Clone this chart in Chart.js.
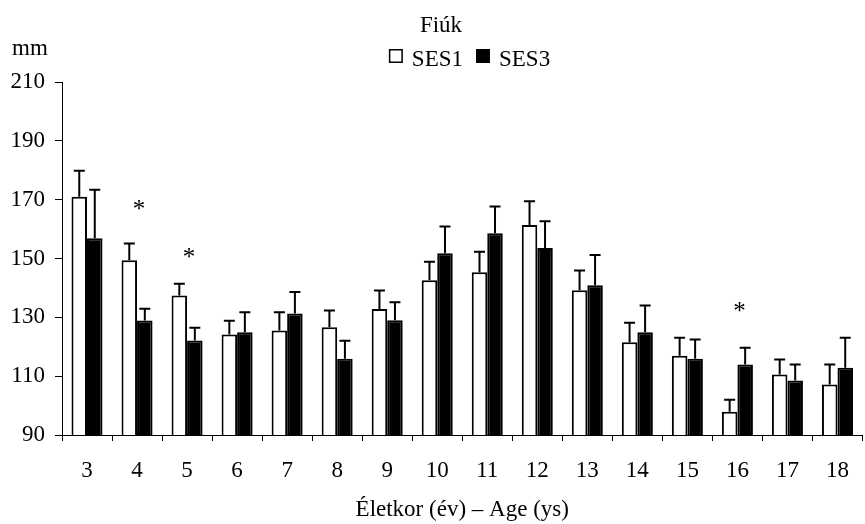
<!DOCTYPE html>
<html><head><meta charset="utf-8">
<script src="https://cdn.jsdelivr.net/npm/chart.js@4/dist/chart.umd.min.js"></script>
<style>html,body{margin:0;padding:0;background:#fff;} #wrap{width:865px;height:524px;}</style>
</head><body><div id="wrap"><canvas id="c" width="865" height="524"></canvas></div>
<script>
const categories = ['3','4','5','6','7','8','9','10','11','12','13','14','15','16','17','18'];
const ses1Means = [171.0,149.4,137.4,124.2,125.5,126.6,132.8,142.6,145.3,161.4,139.2,121.5,116.9,97.9,110.6,107.2];
const ses1SD    = [8.8,5.7,4.0,4.6,6.2,5.7,6.3,6.3,7.0,8.1,6.7,6.7,6.2,4.1,5.1,6.8];
const ses3Means = [156.9,128.9,122.1,124.9,131.3,115.9,129.0,151.8,158.6,153.6,140.9,124.9,115.9,114.0,108.5,112.9];
const ses3SD    = [16.5,4.0,4.4,6.8,7.3,6.1,6.1,9.1,9.1,9.1,10.3,9.1,6.6,5.7,5.5,10.2];
const asteriskLevels = [null,168.2,151.9,null,null,null,null,null,null,null,null,null,null,133.6,null,null];
const seriesNames = ['SES1','SES3'];
const yMin = 90, yMax = 210, yStep = 20;
const chartTitle = 'Fiúk';
const yUnit = 'mm';
const xTitle = 'Életkor (év) – Age (ys)';

const FONT = 'Liberation Serif';
const fnt = {family: FONT, size: 23};

const errorBars = {
  id: 'errorBars',
  afterDatasetsDraw(chart) {
    const ctx = chart.ctx, y = chart.scales.y;
    chart.data.datasets.forEach((ds, i) => {
      const meta = chart.getDatasetMeta(i);
      meta.data.forEach((bar, j) => {
        const top = y.getPixelForValue(ds.data[j] + ds.sd[j]);
        ctx.save();
        ctx.strokeStyle = '#000';
        ctx.lineWidth = 2;
        ctx.beginPath();
        ctx.moveTo(bar.x, bar.y);
        ctx.lineTo(bar.x, top);
        ctx.moveTo(bar.x - 5.5, top);
        ctx.lineTo(bar.x + 5.5, top);
        ctx.stroke();
        ctx.restore();
      });
    });
  }
};

const annotations = {
  id: 'annotations',
  afterDraw(chart) {
    const ctx = chart.ctx, x = chart.scales.x, y = chart.scales.y;
    ctx.save();
    ctx.fillStyle = '#000';
    ctx.font = '23px "' + FONT + '"';
    ctx.textBaseline = 'alphabetic';
    ctx.textAlign = 'center';
    ctx.fillText(chartTitle, 441, 32);
    ctx.textAlign = 'left';
    ctx.fillText(yUnit, 12, 55);
    const ds = chart.data.datasets;
    const box = 14, gapText = 9, gapItem = 13;
    let total = 0;
    const widths = ds.map(d => ctx.measureText(d.label).width);
    widths.forEach((w, i) => { total += box + gapText + w + (i < widths.length - 1 ? gapItem : 0); });
    let lx = 469.5 - total / 2;
    ds.forEach((d, i) => {
      ctx.fillStyle = d.backgroundColor;
      ctx.fillRect(lx, 49, box, box);
      ctx.strokeStyle = '#000';
      ctx.lineWidth = 1.5;
      ctx.strokeRect(lx + 0.75, 49.75, box - 1.5, box - 1.5);
      ctx.fillStyle = '#000';
      ctx.textAlign = 'left';
      ctx.fillText(d.label, lx + box + gapText, 66);
      lx += box + gapText + widths[i] + gapItem;
    });
    ctx.textAlign = 'center';
    ctx.font = '25px "' + FONT + '"';
    asteriskLevels.forEach((v, j) => {
      if (v === null) return;
      const px = x.getPixelForValue(j) + 2;
      const py = y.getPixelForValue(v) + 12;
      ctx.fillText('*', px, py);
    });
    ctx.restore();
  }
};

new Chart(document.getElementById('c'), {
  type: 'bar',
  data: {
    labels: categories,
    datasets: [
      {label: seriesNames[0], data: ses1Means, sd: ses1SD, backgroundColor: '#ffffff', borderColor: '#000', borderWidth: 2, categoryPercentage: 0.62, barPercentage: 1},
      {label: seriesNames[1], data: ses3Means, sd: ses3SD, backgroundColor: '#000000', borderColor: '#000', borderWidth: 2, categoryPercentage: 0.62, barPercentage: 1}
    ]
  },
  options: {
    responsive: false,
    animation: false,
    devicePixelRatio: 1,
    layout: {padding: {top: 82, left: 0, right: 1, bottom: 0}},
    plugins: {legend: {display: false}, title: {display: false}, tooltip: {enabled: false}},
    scales: {
      x: {
        grid: {display: true, drawOnChartArea: false, tickLength: 6, color: '#000', offset: true},
        border: {color: '#000', width: 1},
        ticks: {font: fnt, color: '#000', padding: 16, maxRotation: 0},
        title: {display: true, text: xTitle, font: fnt, color: '#000', padding: {top: 0, bottom: 0}},
        afterFit: s => { s.height = 89; }
      },
      y: {
        min: yMin, max: yMax,
        ticks: {stepSize: yStep, font: fnt, color: '#000', padding: 10},
        grid: {drawOnChartArea: false, tickLength: 7, color: '#000'},
        border: {color: '#000', width: 1},
        afterFit: s => { s.width = 62; }
      }
    }
  },
  plugins: [errorBars, annotations]
});
</script>
</body></html>
